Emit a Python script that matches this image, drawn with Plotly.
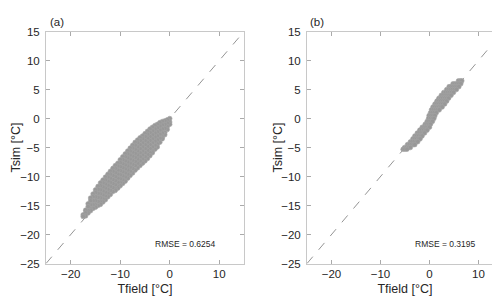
import plotly.graph_objects as go

# ---------------- data ----------------
axis_range = [-25, 15]
one_to_one = [-25, 15]
x_ticks = [-20, -10, 0, 10]
y_ticks = [-25, -20, -15, -10, -5, 0, 5, 10, 15]

# panel (a): columns of Tfield with the Tsim values seen in each column
a_tfield_cols = [0, -0.5, -1, -1.5, -2, -2.5, -3, -3.5, -4, -4.5, -5, -5.5, -6, -6.5,
                 -7, -7.5, -8, -8.5, -9, -9.5, -10, -10.5, -11, -11.5, -12, -12.5,
                 -13, -13.5, -14, -14.5, -15, -15.5, -16, -16.5, -17, -17.5]
a_tsim_cols = [
    [0.0, -0.6, -1.0],
    [-0.2, -0.8, -1.4, -1.9],
    [-0.4, -1.0, -1.7, -2.4, -2.8],
    [-0.5, -1.1, -1.8, -2.5, -3.2, -3.5],
    [-0.7, -1.3, -2.0, -2.7, -3.4, -4.1],
    [-1.0, -1.6, -2.3, -3.0, -3.7, -4.4, -4.9],
    [-1.2, -1.8, -2.5, -3.2, -3.9, -4.6, -5.3],
    [-1.5, -2.1, -2.8, -3.5, -4.2, -4.9, -5.6, -5.9],
    [-1.8, -2.4, -3.1, -3.8, -4.5, -5.2, -5.9, -6.4],
    [-2.2, -2.7, -3.4, -4.1, -4.8, -5.5, -6.2, -6.9],
    [-2.6, -3.1, -3.8, -4.5, -5.2, -5.9, -6.6, -7.3],
    [-3.0, -3.5, -4.2, -4.9, -5.6, -6.3, -7.0, -7.7],
    [-3.3, -3.8, -4.5, -5.2, -5.9, -6.6, -7.3, -8.1],
    [-3.7, -4.2, -4.9, -5.6, -6.3, -7.0, -7.7, -8.5],
    [-4.1, -4.6, -5.3, -6.0, -6.7, -7.4, -8.1, -8.9],
    [-4.6, -5.1, -5.8, -6.5, -7.2, -7.9, -8.6, -9.4],
    [-5.1, -5.6, -6.3, -7.0, -7.7, -8.4, -9.1, -9.8],
    [-5.6, -6.1, -6.8, -7.5, -8.2, -8.9, -9.6, -10.3],
    [-6.1, -6.6, -7.3, -8.0, -8.7, -9.4, -10.1, -10.8],
    [-6.6, -7.1, -7.8, -8.5, -9.2, -9.9, -10.6, -11.2],
    [-7.1, -7.6, -8.3, -9.0, -9.7, -10.4, -11.1, -11.6],
    [-7.7, -8.2, -8.9, -9.6, -10.3, -11.0, -11.7, -12.0],
    [-8.1, -8.6, -9.3, -10.0, -10.7, -11.4, -12.1, -12.4],
    [-8.6, -9.1, -9.8, -10.5, -11.2, -11.9, -12.6],
    [-9.1, -9.6, -10.3, -11.0, -11.7, -12.4, -13.1],
    [-9.6, -10.1, -10.8, -11.5, -12.2, -12.9, -13.5],
    [-10.1, -10.6, -11.3, -12.0, -12.7, -13.4, -14.0],
    [-10.6, -11.1, -11.8, -12.5, -13.2, -13.9, -14.4],
    [-11.1, -11.6, -12.3, -13.0, -13.7, -14.4, -14.8],
    [-11.7, -12.2, -12.9, -13.6, -14.3, -15.0],
    [-12.3, -12.8, -13.5, -14.2, -14.9, -15.3],
    [-13.0, -13.5, -14.2, -14.9, -15.5],
    [-13.7, -14.2, -14.9, -15.6, -15.9],
    [-14.7, -15.2, -15.9, -16.3],
    [-15.8, -16.3, -16.8],
    [-16.6, -16.9],
]

# panel (b): rows of Tsim with the Tfield values seen in each row
b_tsim_rows = [6.5, 6.0, 5.5, 5.0, 4.5, 4.0, 3.5, 3.0, 2.5, 2.0, 1.5, 1.0, 0.5, 0.0,
               -0.5, -1.0, -1.5, -2.0, -2.5, -3.0, -3.5, -4.0, -4.5, -5.0, -5.3]
b_tfield_rows = [
    [5.9, 6.3, 6.6],
    [4.8, 5.2, 5.6, 6.0, 6.4],
    [4.0, 4.4, 4.8, 5.2, 5.6, 6.0],
    [3.5, 3.9, 4.3, 4.7, 5.1, 5.5],
    [2.9, 3.3, 3.7, 4.1, 4.5, 4.9],
    [2.4, 2.8, 3.2, 3.6, 4.0, 4.4],
    [1.9, 2.3, 2.7, 3.1, 3.5, 3.9],
    [1.5, 1.9, 2.3, 2.7, 3.1, 3.5],
    [1.1, 1.5, 1.9, 2.3, 2.7, 3.1],
    [0.7, 1.1, 1.5, 1.9, 2.3, 2.6],
    [0.4, 0.8, 1.2, 1.6, 2.0],
    [0.2, 0.6, 1.0, 1.4],
    [-0.1, 0.3, 0.7, 1.1],
    [-0.2, 0.2, 0.6, 0.9],
    [-0.5, -0.1, 0.3, 0.6],
    [-0.9, -0.5, -0.1, 0.2],
    [-1.5, -1.1, -0.7, -0.3, 0.0],
    [-2.0, -1.6, -1.2, -0.8, -0.5],
    [-2.5, -2.1, -1.7, -1.3, -1.0],
    [-3.0, -2.6, -2.2, -1.8, -1.5],
    [-3.4, -3.0, -2.6, -2.2, -1.9],
    [-3.9, -3.5, -3.1, -2.7, -2.4],
    [-4.5, -4.1, -3.7, -3.3, -3.0],
    [-5.1, -4.7, -4.3, -3.9],
    [-5.4, -5.0, -4.6],
]

rmse_a = "RMSE = 0.6254"
rmse_b = "RMSE = 0.3195"

# ---------------- build ----------------
a_x, a_y = [], []
for xv, ys in zip(a_tfield_cols, a_tsim_cols):
    for yv in ys:
        a_x.append(xv)
        a_y.append(yv)

b_x, b_y = [], []
for yv, xs in zip(b_tsim_rows, b_tfield_rows):
    for xv in xs:
        b_x.append(xv)
        b_y.append(yv)

pt_color = "rgb(152,152,152)"
marker = dict(symbol="circle", size=4.6, color=pt_color,
              line=dict(width=0.6, color="rgb(165,165,165)"))
line_style = dict(color="rgb(120,120,120)", width=0.8, dash="dash")

fig = go.Figure()
fig.add_trace(go.Scatter(x=one_to_one, y=one_to_one, mode="lines", line=line_style,
                         xaxis="x", yaxis="y", showlegend=False, hoverinfo="skip"))
fig.add_trace(go.Scatter(x=a_x, y=a_y, mode="markers", marker=marker,
                         xaxis="x", yaxis="y", showlegend=False))
fig.add_trace(go.Scatter(x=one_to_one, y=one_to_one, mode="lines", line=line_style,
                         xaxis="x2", yaxis="y2", showlegend=False, hoverinfo="skip"))
fig.add_trace(go.Scatter(x=b_x, y=b_y, mode="markers", marker=marker,
                         xaxis="x2", yaxis="y2", showlegend=False))

font_family = "Liberation Sans, Arial, sans-serif"
txt = "#262626"
ax_common = dict(range=axis_range, showgrid=False, zeroline=False, showline=True,
                 linecolor="rgb(200,200,200)", linewidth=1, mirror="ticks",
                 ticks="inside", ticklen=4, tickcolor="rgb(170,170,170)", tickwidth=1,
                 tickfont=dict(family=font_family, size=11.5, color=txt),
                 title_font=dict(family=font_family, size=12.5, color=txt))

y_dom = [1 - 260 / 298, 1 - 18.3 / 298]
y_mid = (y_dom[0] + y_dom[1]) / 2
fig.update_layout(
    width=500, height=298,
    margin=dict(l=0, r=0, t=0, b=0),
    paper_bgcolor="white", plot_bgcolor="white",
    font=dict(family=font_family, color=txt),
    xaxis=dict(ax_common, domain=[38 / 500, 236 / 500], tickvals=x_ticks,
               title=dict(text="Tfield [°C]", standoff=4), anchor="y"),
    yaxis=dict(ax_common, domain=y_dom, tickvals=y_ticks, ticklabelstandoff=3, anchor="x"),
    xaxis2=dict(ax_common, domain=[299 / 500, 495 / 500], tickvals=x_ticks,
                title=dict(text="Tfield [°C]", standoff=4), anchor="y2"),
    yaxis2=dict(ax_common, domain=y_dom, tickvals=y_ticks, ticklabelstandoff=3, anchor="x2"),
    annotations=[
        dict(text="Tsim [°C]", x=8 / 500, y=y_mid, xref="paper", yref="paper",
             textangle=-90, xanchor="center", yanchor="middle", showarrow=False,
             font=dict(family=font_family, size=12.5, color=txt)),
        dict(text="Tsim [°C]", x=270 / 500, y=y_mid, xref="paper", yref="paper",
             textangle=-90, xanchor="center", yanchor="middle", showarrow=False,
             font=dict(family=font_family, size=12.5, color=txt)),
        dict(text="(a)", x=40 / 500, y=1 - 8 / 298, xref="paper", yref="paper",
             xanchor="left", yanchor="middle", showarrow=False,
             font=dict(family=font_family, size=11.5, color=txt)),
        dict(text="(b)", x=300 / 500, y=1 - 8 / 298, xref="paper", yref="paper",
             xanchor="left", yanchor="middle", showarrow=False,
             font=dict(family=font_family, size=11.5, color=txt)),
        dict(text=rmse_a, x=3.2, y=-21.7, xref="x", yref="y", showarrow=False,
             xanchor="center", yanchor="middle",
             font=dict(family=font_family, size=8.5, color=txt)),
        dict(text=rmse_b, x=3.3, y=-21.7, xref="x2", yref="y2", showarrow=False,
             xanchor="center", yanchor="middle",
             font=dict(family=font_family, size=8.5, color=txt)),
    ],
)

fig.write_html("out.html")
